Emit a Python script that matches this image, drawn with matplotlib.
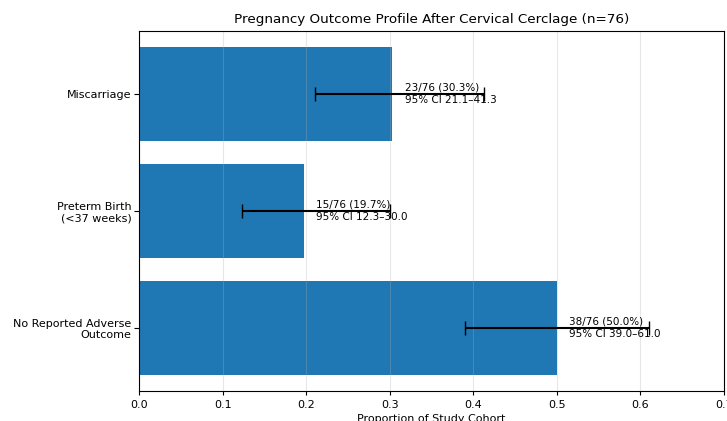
import numpy as np
import matplotlib
matplotlib.use("Agg")
import matplotlib.pyplot as plt

# Outcome categories, bottom to top
outcomes = ["No Reported Adverse\nOutcome", "Preterm Birth\n(<37 weeks)", "Miscarriage"]
counts = [38, 15, 23]
total = 76
proportions = [0.500, 0.197, 0.303]
ci_low = [0.390, 0.123, 0.211]
ci_high = [0.610, 0.300, 0.413]

fig = plt.figure(figsize=(7.27, 4.21), dpi=100)
ax = fig.add_axes([139 / 727, 30 / 421, 585 / 727, 360 / 421])

y = np.arange(len(outcomes))
ax.barh(y, proportions, height=0.8, color="#1f77b4")

xerr = [np.array(proportions) - np.array(ci_low),
        np.array(ci_high) - np.array(proportions)]
ax.errorbar(proportions, y, xerr=xerr, fmt="none", ecolor="black",
            elinewidth=1.5, capsize=5)

for i in range(len(outcomes)):
    label = f"{counts[i]}/{total} ({proportions[i] * 100:.1f}%)\n95% CI {ci_low[i] * 100:.1f}\u2013{ci_high[i] * 100:.1f}"
    ax.text(proportions[i] + 0.015, y[i], label, va="center", ha="left",
            fontsize=7.5, linespacing=1.3)

ax.set_yticks(y)
ax.set_yticklabels(outcomes, fontsize=8)
ax.set_xlim(0, 0.7)
ax.set_xticks(np.arange(0, 0.71, 0.1))
ax.tick_params(axis="x", labelsize=8, length=3)
ax.tick_params(axis="y", pad=2)
ax.set_xlabel("Proportion of Study Cohort", fontsize=8, labelpad=3)
ax.set_title("Pregnancy Outcome Profile After Cervical Cerclage (n=76)", fontsize=9.7)
ax.grid(axis="x", alpha=0.3)

fig.savefig("out.png", dpi=100)
